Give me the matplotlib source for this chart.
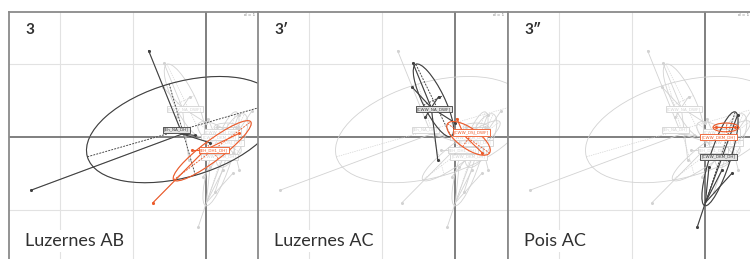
import matplotlib
matplotlib.use("Agg")
import matplotlib.pyplot as plt
from matplotlib.patches import Ellipse
import numpy as np

# groups shown in every panel (grey), each panel highlights one in black and one in red
names = ["Eh_NA_DH", "CWW_NA_DWF", "CWW_DSJ_DWF", "CWW_DKM_DH", "CWW_DKM_DH", "EH_DH1_DH", "CWW_DSJ_DH"]
hub_x = [-0.33, -0.33, 0.12, 0.00, 0.28, -0.02, 0.35]
hub_y = [0.04, 0.40, 0.02, -0.90, 0.13, -0.18, -0.05]
lab_x = [-0.41, -0.29, 0.22, 0.18, 0.18, 0.10, 0.28]
lab_y = [0.10, 0.38, 0.06, -0.27, 0.00, -0.18, -0.08]
ell_x = [-0.33, -0.30, 0.18, 0.20, 0.28, 0.08, 0.35]
ell_y = [0.10, 0.50, -0.02, -0.30, 0.13, -0.19, -0.05]
ell_w = [2.70, 1.10, 0.70, 1.35, 0.35, 1.32, 0.80]
ell_h = [1.30, 0.30, 0.28, 0.28, 0.12, 0.28, 0.30]
ell_a = [16, -64, -35, 72, 0, 37, 65]
pts_x = [[-0.79, -2.40, 0.05, -0.15],
         [-0.58, -0.24, -0.59, -0.23, -0.41, 0.00],
         [0.37, 0.02, 0.30],
         [-0.11, 0.05, 0.23, 0.37, 0.44],
         [0.15, 0.41],
         [-0.73, -0.19, 0.45],
         [0.62, 0.45, 0.12, -0.05]]
pts_y = [[1.18, -0.73, -0.08, 0.02],
         [1.01, -0.32, 0.68, 0.55, 0.27, 0.19],
         [-0.22, 0.25, 0.05],
         [-1.23, -0.41, -0.45, -0.49, 0.30],
         [0.13, 0.13],
         [-0.90, -0.18, 0.05],
         [0.35, -0.45, -0.75, -0.55]]

panel_titles = ["3", "3\u2032", "3\u2033"]
panel_names = ["Luzernes AB", "Luzernes AC", "Pois AC"]
black_grp = [0, 1, 3]
red_grp = [5, 2, 4]

GREY = "#d2d2d2"
BLACK = "#404040"
RED = "#f05a28"

plt.rcParams['font.family'] = ['Lato', 'DejaVu Sans']


def draw_group(ax, g, color, lw, z, face="white"):
    hx, hy = hub_x[g], hub_y[g]
    for px, py in zip(pts_x[g], pts_y[g]):
        ax.plot([hx, px], [hy, py], color=color, lw=lw, zorder=z)
    ax.plot(pts_x[g], pts_y[g], 'o', color=color, ms=2.2, mec='none', zorder=z + 0.1)
    ax.add_patch(Ellipse((ell_x[g], ell_y[g]), ell_w[g], ell_h[g], angle=ell_a[g],
                         fill=False, ec=color, lw=lw, zorder=z))
    # ellipse axes, dashed
    a = np.radians(ell_a[g])
    for half, ang in ((ell_w[g] / 2, a), (ell_h[g] / 2, a + np.pi / 2)):
        dx, dy = half * np.cos(ang), half * np.sin(ang)
        ax.plot([ell_x[g] - dx, ell_x[g] + dx], [ell_y[g] - dy, ell_y[g] + dy],
                color=color, lw=lw * 0.8, ls=(0, (2, 1.5)), zorder=z)
    ax.text(lab_x[g], lab_y[g], "[" + names[g] + "]", fontsize=3, color=color,
            ha='center', va='center', family='DejaVu Sans', zorder=z + 0.2,
            bbox=dict(boxstyle='square,pad=0.25', fc=face, ec=color, lw=0.6))


fig = plt.figure(figsize=(7.5, 2.59), dpi=100)
W, H = 750.0, 259.0
lefts = [9, 258, 508]
for i in range(3):
    ax = fig.add_axes([lefts[i] / W, -5 / H, 250 / W, (264 - 12) / H])
    ax.set_xlim(-2.70, 0.72)
    ax.set_ylim(-1.74, 1.71)
    ax.set_xticks([])
    ax.set_yticks([])
    for s in ax.spines.values():
        s.set_color("#8a8a8a")
        s.set_linewidth(1.3)
    for v in (-2, -1):
        ax.axvline(v, color="#e2e2e2", lw=0.8, zorder=0)
    for v in (-1, 1):
        ax.axhline(v, color="#e2e2e2", lw=0.8, zorder=0)
    ax.axvline(0, color="#6a6a6a", lw=1.2, zorder=0.5)
    ax.axhline(0, color="#6a6a6a", lw=1.2, zorder=0.5)

    for g in range(len(names)):
        draw_group(ax, g, GREY, 0.6, 1)
    draw_group(ax, black_grp[i], BLACK, 0.8, 3, face="#e4e4e4")
    draw_group(ax, red_grp[i], RED, 0.8, 4)

    # scale note, kept inside the figure for the last (cut) panel
    dx = 0.985 if i < 2 else (749 - lefts[i]) / 250
    ax.text(dx, 0.995, "d = 1", transform=ax.transAxes, fontsize=3, color="#777777",
            ha='right', va='top', family='DejaVu Sans')
    ax.text(16 / 250, 1 - 18 / 252, panel_titles[i], transform=ax.transAxes, fontsize=11,
            color="#303030", ha='left', va='center', fontweight='bold')
    ax.text(16 / 250, 23 / 252, panel_names[i], transform=ax.transAxes, fontsize=13,
            color="#303030", ha='left', va='center', zorder=10,
            bbox=dict(boxstyle='square,pad=0.15', fc='white', ec='none'))

fig.savefig("out.png", dpi=100)
